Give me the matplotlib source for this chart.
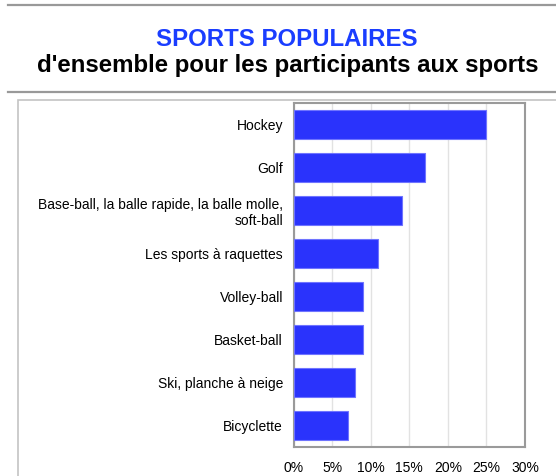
import matplotlib.pyplot as plt
from matplotlib.lines import Line2D
from matplotlib.patches import Rectangle

plt.rcParams['font.family'] = ['Liberation Sans', 'DejaVu Sans']

# donnees
sports = ['Hockey', 'Golf',
          'Base-ball, la balle rapide, la balle molle,\nsoft-ball',
          'Les sports à raquettes', 'Volley-ball', 'Basket-ball',
          'Ski, planche à neige', 'Bicyclette']
pourcentages = [25, 17, 14, 11, 9, 9, 8, 7]
ticks_x = [0, 5, 10, 15, 20, 25, 30]
tick_labels = ['0%', '5%', '10%', '15%', '20%', '25%', '30%']

W, H = 556, 476
fig = plt.figure(figsize=(W / 100, H / 100), dpi=100)


def fx(px):
    return px / W


def fy(py):
    return 1 - py / H


# filets gris en haut
fig.add_artist(Line2D([fx(8), 1], [fy(5), fy(5)], color='#999999', lw=1.6))
fig.add_artist(Line2D([fx(8), 1], [fy(92), fy(92)], color='#999999', lw=1.6))

# cadre du panneau (derriere les axes)
cadre = Rectangle((fx(18), fy(480)), fx(560) - fx(18), fy(100) - fy(480),
                  facecolor='white', edgecolor='#c4c4c4', lw=1.2, zorder=-5)
fig.add_artist(cadre)

fig.text(fx(287), fy(46), 'SPORTS POPULAIRES', color='#1a3dff',
         fontsize=17.3, fontweight='bold', ha='center', va='baseline')
fig.text(fx(287.5), fy(72), "d'ensemble pour les participants aux sports",
         color='black', fontsize=17.3, fontweight='bold', ha='center', va='baseline')

ax = fig.add_axes([fx(293.5), fy(446.7), fx(525) - fx(293.5), fy(103.3) - fy(446.7)])
ax.set_zorder(2)
ypos = list(range(len(sports)))
ax.barh(ypos, pourcentages, height=0.67, color='#2a33fc', edgecolor='#6f74ff',
        linewidth=0.8, zorder=3)
ax.set_ylim(len(sports) - 0.5, -0.5)
ax.set_xlim(0, 30)
ax.set_yticks(ypos)
ax.set_yticklabels(sports, fontsize=10)
ax.set_xticks(ticks_x)
ax.set_xticklabels(tick_labels, fontsize=10)
ax.tick_params(axis='both', length=0)
ax.tick_params(axis='y', pad=7.5)
ax.tick_params(axis='x', pad=10)
ax.grid(axis='x', color='#e2e2e2', lw=1, zorder=0)
for s in ax.spines.values():
    s.set_color('#9a9a9a')
    s.set_linewidth(1.5)

fig.savefig('out.png', dpi=100)
